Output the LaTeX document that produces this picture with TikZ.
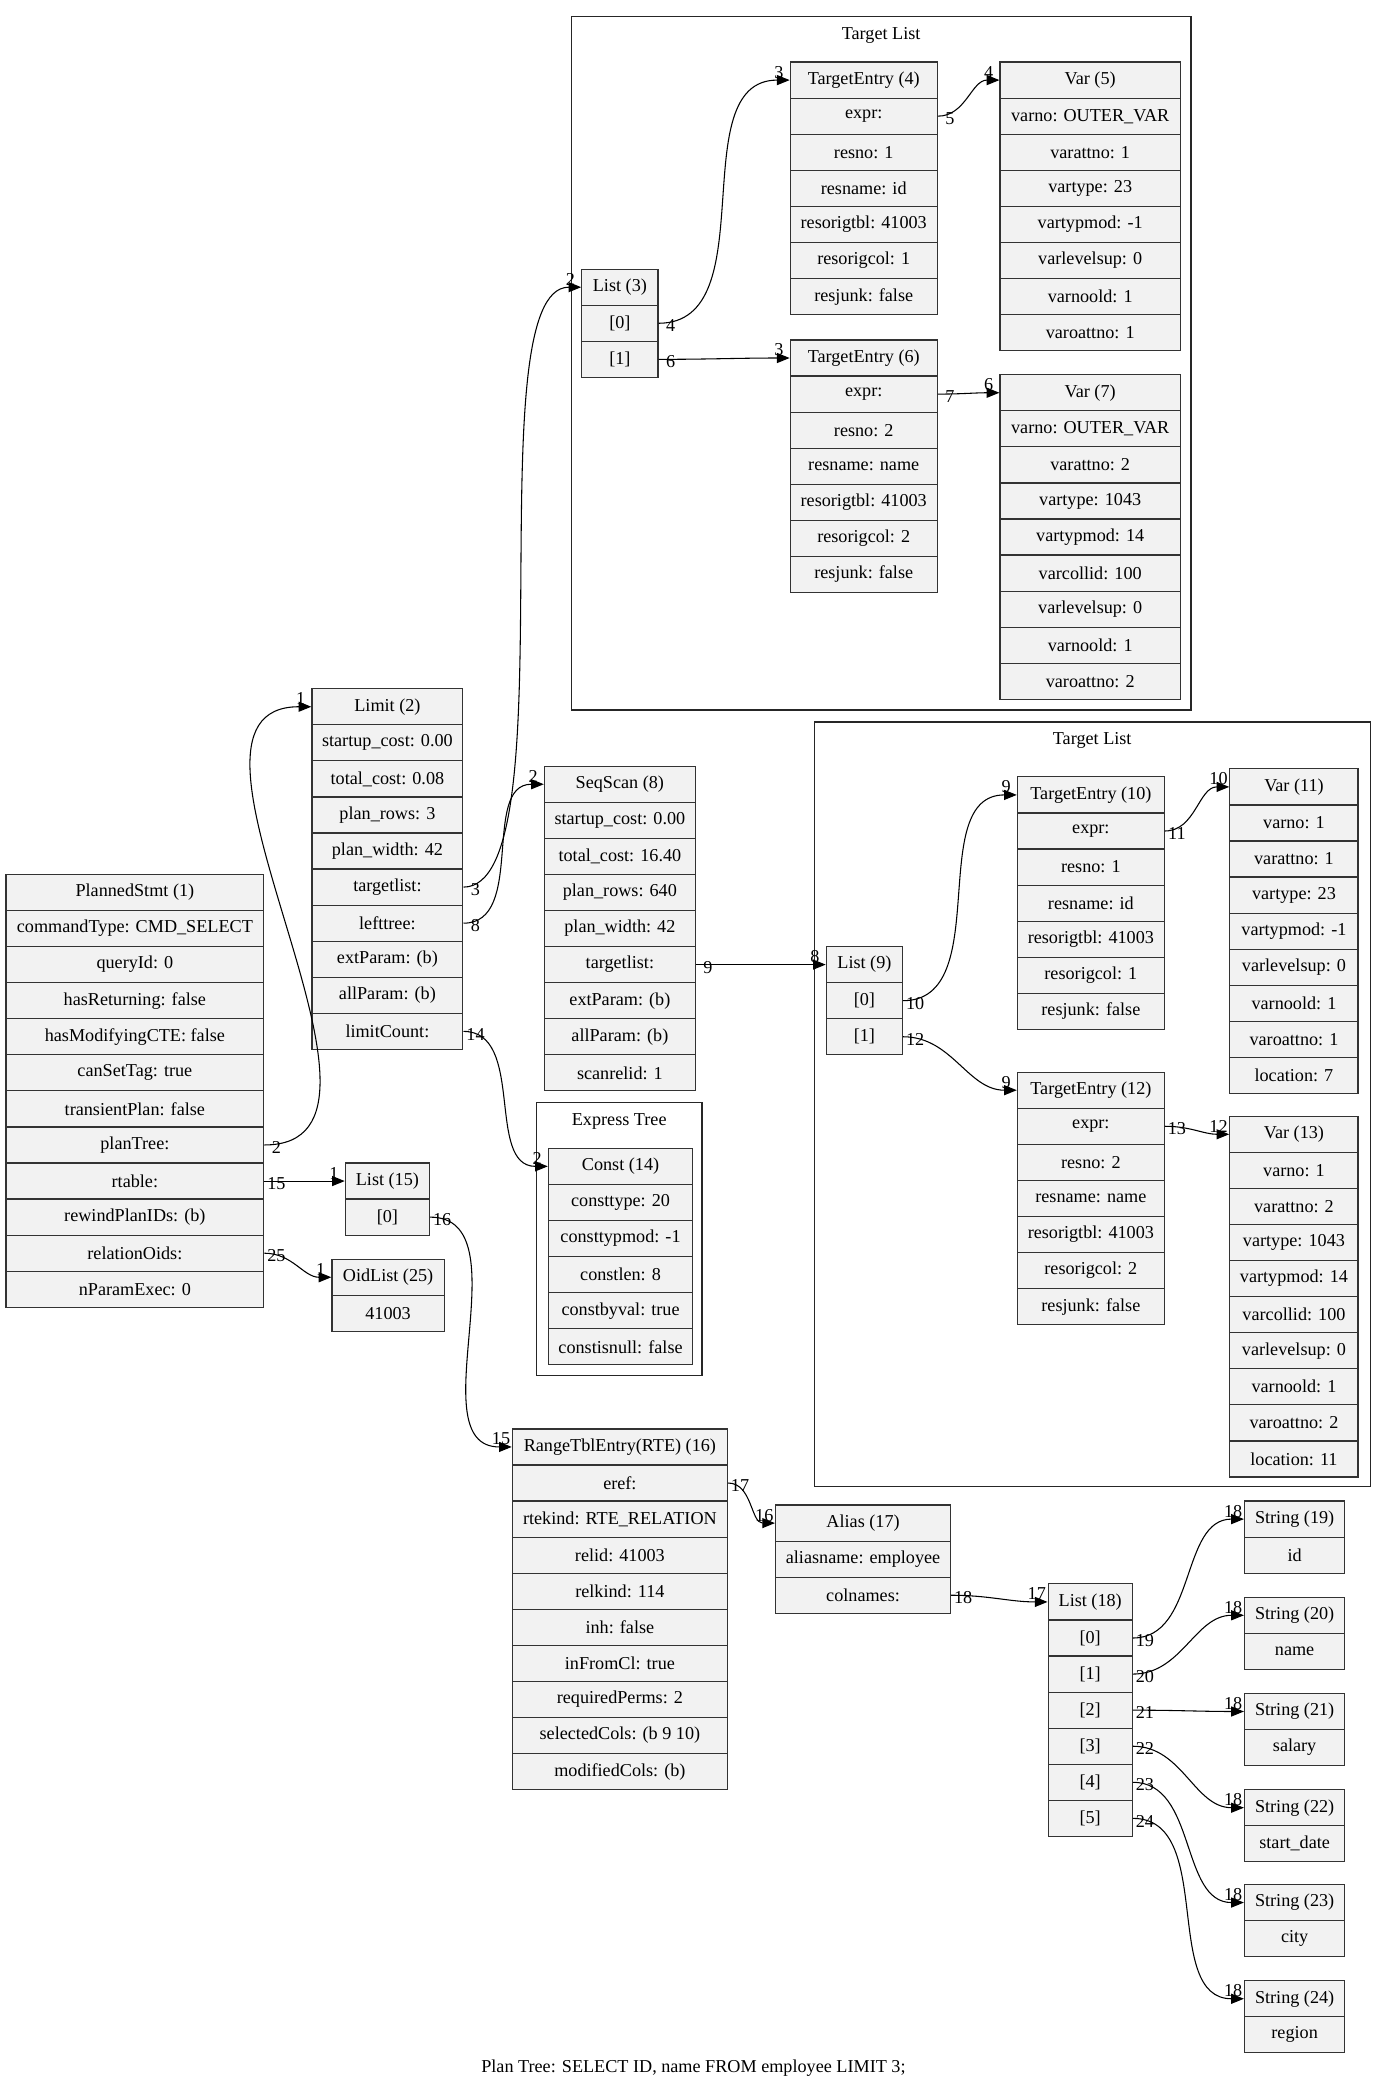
\documentclass[tikz,border=0pt]{standalone}
\usepackage{fontspec}
\setmainfont{Liberation Serif}
\usepackage{tikz}
\usetikzlibrary{arrows.meta, positioning}
\definecolor{RecFill}{HTML}{F2F2F2}
\definecolor{RecLine}{HTML}{333333}
\newcommand{\recfont}{\fontsize{13.6}{16}\selectfont}
\tikzset{
  fieldbox/.style={rectangle, draw=RecLine, fill=RecFill, line width=0.9pt, minimum height=27pt, inner sep=0pt, anchor=north west, font=\recfont},
  clusterbox/.style={rectangle, draw=black!85, line width=0.9pt, inner sep=0pt, anchor=north west},
  clustertitle/.style={font=\recfont, inner sep=0pt},
  edgearrow/.style={-{Triangle[length=9.5pt,width=7.5pt]}, line width=0.8pt, black},
  taillabel/.style={font=\recfont, inner sep=0pt, xshift=9pt, yshift=-2pt},
  headlabel/.style={font=\recfont, inner sep=0pt, xshift=-8pt, yshift=6pt}
}
% record: name, x, y (top), width, fields
\newcommand{\recnode}[5]{%
  \foreach \txt [count=\i from 0] in {#5}{
    \node[fieldbox, minimum width=#4pt] (#1-\i) at (#2,{#3+27*\i}) {\txt};
  }}

\begin{document}
\begin{tikzpicture}[x=1pt, y=-1pt]
  \useasboundingbox (0,0) rectangle (1038,1568);

  \node[clusterbox, minimum width=464pt, minimum height=519pt] (tlist1) at (427,12) {};
  \node[clustertitle, below=8pt of tlist1.north] (tlist1-title) {Target List};
  \node[clusterbox, minimum width=416pt, minimum height=572pt] (tlist2) at (609,540) {};
  \node[clustertitle, below=8pt of tlist2.north] (tlist2-title) {Target List};
  \node[clusterbox, minimum width=124pt, minimum height=204pt] (extree) at (401,825) {};
  \node[clustertitle, below=8pt of extree.north] (extree-title) {Express Tree};

  \recnode{ps}{4}{654}{193}{PlannedStmt (1),commandType: CMD\_SELECT,queryId: 0,hasReturning: false,hasModifyingCTE: false,canSetTag: true,transientPlan: false,planTree:,rtable:,rewindPlanIDs: (b),relationOids:,nParamExec: 0}
  \recnode{limit}{233}{515}{113}{Limit (2),startup\_cost: 0.00,total\_cost: 0.08,plan\_rows: 3,plan\_width: 42,targetlist:,lefttree:,extParam: (b),allParam: (b),limitCount:}
  \recnode{seqscan}{407}{573}{113}{SeqScan (8),startup\_cost: 0.00,total\_cost: 16.40,plan\_rows: 640,plan\_width: 42,targetlist:,extParam: (b),allParam: (b),scanrelid: 1}
  \recnode{listc}{435}{201}{57}{List (3),[0],[1]}
  \recnode{te4}{591}{46}{110}{TargetEntry (4),expr:,resno: 1,resname: id,resorigtbl: 41003,resorigcol: 1,resjunk: false}
  \recnode{var5}{748}{46}{135}{Var (5),varno: OUTER\_VAR,varattno: 1,vartype: 23,vartypmod: -1,varlevelsup: 0,varnoold: 1,varoattno: 1}
  \recnode{te6}{591}{254}{110}{TargetEntry (6),expr:,resno: 2,resname: name,resorigtbl: 41003,resorigcol: 2,resjunk: false}
  \recnode{var7}{748}{280}{135}{Var (7),varno: OUTER\_VAR,varattno: 2,vartype: 1043,vartypmod: 14,varcollid: 100,varlevelsup: 0,varnoold: 1,varoattno: 2}
  \recnode{list9}{618}{708}{57}{List (9),[0],[1]}
  \recnode{te10}{761}{581}{110}{TargetEntry (10),expr:,resno: 1,resname: id,resorigtbl: 41003,resorigcol: 1,resjunk: false}
  \recnode{var11}{920}{575}{96}{Var (11),varno: 1,varattno: 1,vartype: 23,vartypmod: -1,varlevelsup: 0,varnoold: 1,varoattno: 1,location: 7}
  \recnode{te12}{761}{802}{110}{TargetEntry (12),expr:,resno: 2,resname: name,resorigtbl: 41003,resorigcol: 2,resjunk: false}
  \recnode{var13}{920}{835}{96}{Var (13),varno: 1,varattno: 2,vartype: 1043,vartypmod: 14,varcollid: 100,varlevelsup: 0,varnoold: 1,varoattno: 2,location: 11}
  \recnode{const14}{410}{859}{108}{Const (14),consttype: 20,consttypmod: -1,constlen: 8,constbyval: true,constisnull: false}
  \recnode{list15}{258}{870}{63}{List (15),[0]}
  \recnode{oid25}{248}{942}{84}{OidList (25),41003}
  \recnode{rte16}{383}{1069}{161}{RangeTblEntry(RTE) (16),eref:,rtekind: RTE\_RELATION,relid: 41003,relkind: 114,inh: false,inFromCl: true,requiredPerms: 2,selectedCols: (b 9 10),modifiedCols: (b)}
  \recnode{alias17}{580}{1126}{131}{Alias (17),aliasname: employee,colnames:}
  \recnode{list18}{784}{1185}{63}{List (18),[0],[1],[2],[3],[4],[5]}
  \foreach \n/\y/\v in {19/1123/id,20/1195/name,21/1267/salary,22/1339/start\_date,23/1410/city,24/1482/region}
    \recnode{str\n}{931}{\y}{75}{String (\n),\v};

  \draw[edgearrow] (ps-7.east) node[taillabel] {2} to[out=0,in=180] (limit-0.west) node[headlabel] {1};
  \draw[edgearrow] (ps-8.east) node[taillabel] {15} to[out=0,in=180] (list15-0.west) node[headlabel] {1};
  \draw[edgearrow] (ps-10.east) node[taillabel] {25} to[out=0,in=180] (oid25-0.west) node[headlabel] {1};
  \draw[edgearrow] (limit-5.east) node[taillabel] {3} to[out=0,in=180,looseness=0.45] (listc-0.west) node[headlabel] {2};
  \draw[edgearrow] (limit-6.east) node[taillabel] {8} to[out=0,in=180] (seqscan-0.west) node[headlabel] {2};
  \draw[edgearrow] (limit-9.east) node[taillabel] {14} to[out=0,in=180] (const14-0.west) node[headlabel] {2};
  \draw[edgearrow] (listc-1.east) node[taillabel] {4} to[out=0,in=180] (te4-0.west) node[headlabel] {3};
  \draw[edgearrow] (listc-2.east) node[taillabel] {6} to[out=0,in=180] (te6-0.west) node[headlabel] {3};
  \draw[edgearrow] (te4-1.east) node[taillabel] {5} to[out=0,in=180] (var5-0.west) node[headlabel] {4};
  \draw[edgearrow] (te6-1.east) node[taillabel] {7} to[out=0,in=180] (var7-0.west) node[headlabel] {6};
  \draw[edgearrow] (seqscan-5.east) node[taillabel] {9} to[out=0,in=180] (list9-0.west) node[headlabel] {8};
  \draw[edgearrow] (list9-1.east) node[taillabel] {10} to[out=0,in=180] (te10-0.west) node[headlabel] {9};
  \draw[edgearrow] (list9-2.east) node[taillabel] {12} to[out=0,in=180] (te12-0.west) node[headlabel] {9};
  \draw[edgearrow] (te10-1.east) node[taillabel] {11} to[out=0,in=180] (var11-0.west) node[headlabel] {10};
  \draw[edgearrow] (te12-1.east) node[taillabel] {13} to[out=0,in=180] (var13-0.west) node[headlabel] {12};
  \draw[edgearrow] (list15-1.east) node[taillabel] {16} to[out=0,in=180] (rte16-0.west) node[headlabel] {15};
  \draw[edgearrow] (rte16-1.east) node[taillabel] {17} to[out=0,in=180] (alias17-0.west) node[headlabel] {16};
  \draw[edgearrow] (alias17-2.east) node[taillabel] {18} to[out=0,in=180] (list18-0.west) node[headlabel] {17};
  \foreach \k [evaluate=\k as \s using int(\k+19), evaluate=\k as \r using int(\k+1)] in {0,...,5}
    \draw[edgearrow] (list18-\r.east) node[taillabel] {\s} to[out=0,in=180] (str\s-0.west) node[headlabel] {18};

  \node[font=\recfont, inner sep=0pt] (caption) at (519,1548) {Plan Tree: SELECT ID, name FROM employee LIMIT 3;};
\end{tikzpicture}
\end{document}
